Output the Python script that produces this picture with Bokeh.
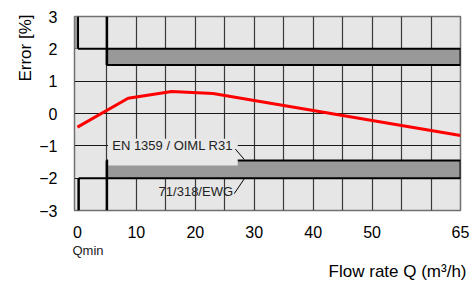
from bokeh.plotting import figure
from bokeh.models import FixedTicker, Label, Range1d, Title
from bokeh.embed import file_html
from bokeh.resources import INLINE

# ---- data ----
flow = [0, 8.6, 16, 23, 65]
error = [-0.42, 0.47, 0.68, 0.62, -0.68]

x_ticks = [0, 10, 20, 30, 40, 50, 65]
y_ticks = [-3, -2, -1, 0, 1, 2, 3]
x_grid = [5, 10, 15, 20, 25, 30, 35, 40, 45, 50, 55, 60]
y_grid = [-2, -1, 0, 1, 2]

q_min = 5
q_max = 65
upper_band = [1.5, 2.0]
lower_band = [-2.0, -1.45]

label_en = "EN 1359 / OIML R31"
label_ewg = "71/318/EWG"

FONT = "Liberation Sans"

p = figure(width=472, height=284, output_backend="svg", toolbar_location=None,
           x_range=Range1d(-0.5, 65), y_range=Range1d(-3, 3),
           min_border_left=74, min_border_right=12, min_border_top=16, min_border_bottom=74)

p.background_fill_color = "#e6e6e6"
p.border_fill_color = "white"
p.outline_line_color = "#707070"
p.outline_line_width = 1.5

# axes
for ax in (p.xaxis, p.yaxis):
    ax.axis_line_color = None
    ax.major_tick_line_color = None
    ax.minor_tick_line_color = None
    ax.major_label_text_font = FONT
    ax.major_label_text_font_size = "16px"
    ax.major_label_text_color = "black"
p.xaxis.ticker = FixedTicker(ticks=x_ticks)
p.yaxis.ticker = FixedTicker(ticks=y_ticks)
p.xaxis.major_label_standoff = 9
p.yaxis.major_label_standoff = 11

p.xgrid.ticker = FixedTicker(ticks=x_grid)
p.ygrid.ticker = FixedTicker(ticks=y_grid)
p.xgrid.grid_line_color = "#3a3a3a"
p.ygrid.grid_line_color = "#1a1a1a"
p.xgrid.grid_line_width = 1.2
p.ygrid.grid_line_width = 1

# outer texts as titles
p.add_layout(Title(text="Qmin", align="left", offset=-2, text_font=FONT, text_font_size="13px",
                   text_font_style="normal", text_color="#222", standoff=0), "below")
p.add_layout(Title(text="Flow rate Q (m³/h)", align="right", offset=-6, text_font=FONT,
                   text_font_size="17px", text_font_style="normal", text_color="black", standoff=5), "below")
p.add_layout(Title(text="Error [%]", align="right", offset=-2, text_font=FONT,
                   text_font_size="17px", text_font_style="normal", text_color="black", standoff=4), "left")

# upper-left marker region
p.quad(left=[-0.5], right=[0], bottom=[upper_band[1]], top=[3], fill_color="#999999", line_color=None)
p.segment(x0=[0.1], y0=[upper_band[1]], x1=[0.1], y1=[3], line_color="black", line_width=2)
p.segment(x0=[0.1], y0=[upper_band[1]], x1=[q_min], y1=[upper_band[1]], line_color="black", line_width=2)

# bands
p.quad(left=[q_min], right=[q_max], bottom=[upper_band[0]], top=[upper_band[1]],
       fill_color="#999999", line_color="black", line_width=2)
p.quad(left=[q_min], right=[q_max], bottom=[lower_band[0]], top=[lower_band[1]],
       fill_color="#999999", line_color="black", line_width=2)

# label background box
p.quad(left=[5.2], right=[27.2], bottom=[-1.61], top=[-0.78], fill_color="#e8e8e8", line_color=None)

# lower-left marker
p.segment(x0=[0.2], y0=[-3], x1=[0.2], y1=[lower_band[0]], line_color="black", line_width=2.5)
p.segment(x0=[0.2], y0=[lower_band[0]], x1=[q_min], y1=[lower_band[0]], line_color="black", line_width=2)

# Qmin verticals
p.segment(x0=[q_min], y0=[upper_band[0]], x1=[q_min], y1=[3], line_color="black", line_width=2.5)
p.segment(x0=[q_min], y0=[-3], x1=[q_min], y1=[lower_band[1]], line_color="black", line_width=2.5)

# leader lines
p.segment(x0=[26.8], y0=[-1.1], x1=[28.3], y1=[-1.42], line_color="black", line_width=1)
p.segment(x0=[26.6], y0=[-2.48], x1=[28.3], y1=[-2.02], line_color="black", line_width=1)

# error curve
p.line(flow, error, line_color="#ff0000", line_width=3)

# annotations inside the frame
p.add_layout(Label(x=5.9, y=-1.0, text=label_en, text_font=FONT, text_font_size="13px",
                   text_baseline="middle", text_align="left", text_color="#222"))
p.add_layout(Label(x=26.4, y=-2.42, text=label_ewg, text_font=FONT, text_font_size="13px",
                   text_baseline="middle", text_align="right", text_color="#222"))

open("out.html", "w").write(file_html(p, INLINE))
